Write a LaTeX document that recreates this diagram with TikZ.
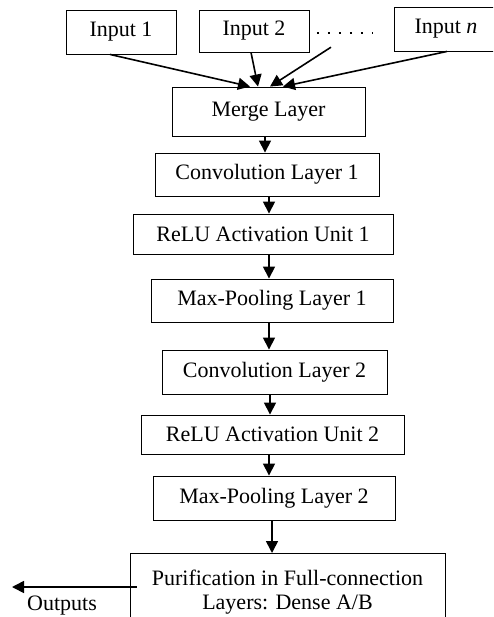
\documentclass[tikz,border=0pt]{standalone}
\usepackage{fontspec}
\setmainfont{Liberation Serif}
\usetikzlibrary{arrows.meta,calc}
\begin{document}
\begin{tikzpicture}[x=1pt,y=-1pt,
  box/.style={draw=black,line width=0.9pt,inner sep=0pt,font=\fontsize{22}{24}\selectfont},
  arr/.style={line width=1.6pt,-{Triangle[length=12pt,width=12pt]}},
  dotline/.style={line width=1.6pt,dash pattern=on 2pt off 9pt},
  lbl/.style={font=\fontsize{22}{24}\selectfont,inner sep=0pt}
]
\useasboundingbox (0,0) rectangle (493,617);
\clip (0,0) rectangle (493,617);
% inputs
\node[box,minimum width=110pt,minimum height=44pt] (in1) at (121,32) {Input 1};
\node[box,minimum width=110pt,minimum height=42pt] (in2) at (254,31) {Input 2};
\node[box,minimum width=104pt,minimum height=44pt] (inn) at (446,29) {Input \textit{n}};
\node[minimum width=56pt,minimum height=4pt,inner sep=0pt] (dots) at (345,33) {};
\draw[dotline] (dots.west) -- (dots.east);
% layers
\node[box,minimum width=193pt,minimum height=49pt] (merge) at (268.5,111.5) {Merge Layer};
\node[box,minimum width=224pt,minimum height=43pt] (conv1) at (267,174.5) {Convolution Layer 1};
\node[box,minimum width=260pt,minimum height=40pt] (relu1) at (263,234) {ReLU Activation Unit 1};
\node[box,minimum width=242pt,minimum height=43pt] (pool1) at (272,300.5) {Max-Pooling Layer 1};
\node[box,minimum width=225pt,minimum height=44pt] (conv2) at (274.5,372) {Convolution Layer 2};
\node[box,minimum width=263pt,minimum height=39pt] (relu2) at (272.5,434.5) {ReLU Activation Unit 2};
\node[box,minimum width=242pt,minimum height=44pt] (pool2) at (274,498) {Max-Pooling Layer 2};
\node[box,anchor=north,minimum width=315pt,inner ysep=17pt,align=center] (pur) at (287.5,553)
  {Purification in Full-connection\\Layers: Dense A/B};
\node[lbl] (outl) at (62,606) {Outputs};
\coordinate (outtip) at (12,587);
% connectors
\draw[arr] ($(in1.south)+(-11,0)$) -- ($(merge.north)+(-18.5,0)$);
\draw[arr] ($(in2.south)+(-3,0)$) -- ($(merge.north)+(-10.5,0)$);
\draw[arr] ($(dots.south)+(-14,12)$) -- ($(merge.north)+(1.5,0)$);
\draw[arr] ($(inn.south)+(1,0)$) -- ($(merge.north)+(14.5,0)$);
\draw[arr] (merge.south -| 265,0) -- (conv1.north -| 265,0);
\draw[arr] (conv1.south -| 269,0) -- (relu1.north -| 269,0);
\draw[arr] (relu1.south -| 269,0) -- (pool1.north -| 269,0);
\draw[arr] (pool1.south -| 269,0) -- (conv2.north -| 269,0);
\draw[arr] (conv2.south -| 270,0) -- (relu2.north -| 270,0);
\draw[arr] (relu2.south -| 269,0) -- (pool2.north -| 269,0);
\draw[arr] (pool2.south -| 272,0) -- (pur.north -| 272,0);
\draw[arr] (pur.west |- outtip) ++(7,0) -- (outtip);
\end{tikzpicture}
\end{document}
